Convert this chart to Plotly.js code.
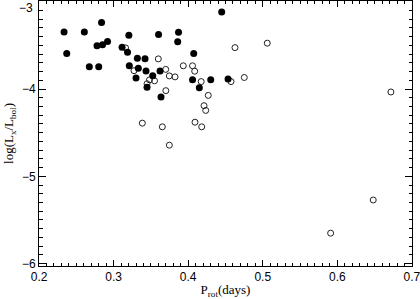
<!DOCTYPE html>
<html>
<head>
<meta charset="utf-8">
<script src="https://cdn.plot.ly/plotly-3.0.1.min.js"></script>
<style>html,body{margin:0;padding:0;background:#fff;}#chart{width:420px;height:299px;}</style>
</head>
<body>
<div id="chart"></div>
<script>
// Filled circles
var filledP = [0.2335,0.2371,0.2607,0.2838,0.2674,0.2800,0.2777,0.2851,0.2918,0.3204,
  0.3113,0.3186,0.3210,0.3318,0.3331,0.3300,0.3421,0.3434,0.3524,0.3448,
  0.3602,0.3622,0.3635,0.3870,0.3859,0.4449,0.4074,0.4058,0.4149,0.4302,0.4534];
var filledL = [-3.346,-3.594,-3.346,-3.238,-3.745,-3.745,-3.504,-3.493,-3.455,-3.384,
  -3.523,-3.579,-3.734,-3.647,-3.762,-3.873,-3.653,-3.794,-3.847,-3.980,
  -3.377,-3.794,-4.092,-3.351,-3.459,-3.117,-3.594,-3.895,-3.985,-3.895,-3.884];
// Open circles
var openP = [0.3160,0.3273,0.3599,0.3698,0.3747,0.3823,0.3448,0.3481,0.3548,0.3700,
  0.3934,0.4058,0.4087,0.4174,0.4574,0.4752,0.4627,0.5060,0.4269,0.4212,
  0.4235,0.3385,0.3653,0.4091,0.4181,0.3747,0.5910,0.6481,0.6718];
var openL = [-3.529,-3.790,-3.655,-3.775,-3.850,-3.861,-3.940,-3.895,-3.906,-4.019,
  -3.734,-3.734,-3.796,-3.915,-3.915,-3.868,-3.526,-3.475,-4.073,-4.191,
  -4.245,-4.391,-4.433,-4.380,-4.433,-4.643,-5.651,-5.271,-4.034];
// Tick labels
var xTickVals = [0.2, 0.3, 0.4, 0.5, 0.6, 0.7];
var xTickText = ['0.2', '0.3', '0.4', '0.5', '0.6', '0.7'];
var yTickVals = [-6, -5, -4];
var yTickText = ['\u22126', '\u22125', '\u22124'];
var yTopVal = -3;
var yTopText = '\u22123';

var traces = [
  {x: openP, y: openL, mode: 'markers', type: 'scatter',
   marker: {symbol: 'circle-open', size: 6, color: '#222', line: {width: 1, color: '#222'}}},
  {x: filledP, y: filledL, mode: 'markers', type: 'scatter',
   marker: {symbol: 'circle', size: 7, color: '#000'}}
];

var tickFont = {family: 'Liberation Sans, Arial, sans-serif', size: 12, color: '#000'};
var axisCommon = {
  showgrid: false, zeroline: false, showline: true, linecolor: '#000', linewidth: 1,
  mirror: 'ticks', ticks: 'inside', tickcolor: '#000', tickwidth: 1,
  tickfont: tickFont
};

var layout = {
  width: 420, height: 299,
  margin: {l: 39, r: 8, t: 1, b: 33},
  paper_bgcolor: '#fff', plot_bgcolor: '#fff',
  showlegend: false,
  xaxis: Object.assign({}, axisCommon, {
    range: [0.1999, 0.7001], tickmode: 'array', tickvals: xTickVals, ticktext: xTickText, ticklen: 6,
    ticklabeloverflow: 'allow',
    minor: {dtick: 0.01, tick0: 0.2, ticks: 'inside', ticklen: 3, tickcolor: '#000'},
    title: {text: 'P<sub>rot</sub>(days)', standoff: 7,
            font: {family: 'Liberation Serif, Times New Roman, serif', size: 13, color: '#000'}}
  }),
  yaxis: Object.assign({}, axisCommon, {
    range: [-6.027, -2.992], tickmode: 'array', tickvals: yTickVals.concat([yTopVal]),
    ticktext: yTickText.concat(['']), ticklen: 7,
    minor: {dtick: 0.1, tick0: -6, ticks: 'inside', ticklen: 3.5, tickcolor: '#000'},
    title: {text: 'log(L<sub>x</sub>/L<sub>bol</sub>)', standoff: 5,
            font: {family: 'Liberation Serif, Times New Roman, serif', size: 13, color: '#000'}}
  }),
  annotations: [{
    text: yTopText, xref: 'paper', x: 0, xanchor: 'right', xshift: -4,
    yref: 'y', y: yTopVal, yanchor: 'middle', yshift: -6, showarrow: false,
    font: tickFont
  }]
};

Plotly.newPlot('chart', traces, layout, {staticPlot: true, displayModeBar: false});
</script>
</body>
</html>
